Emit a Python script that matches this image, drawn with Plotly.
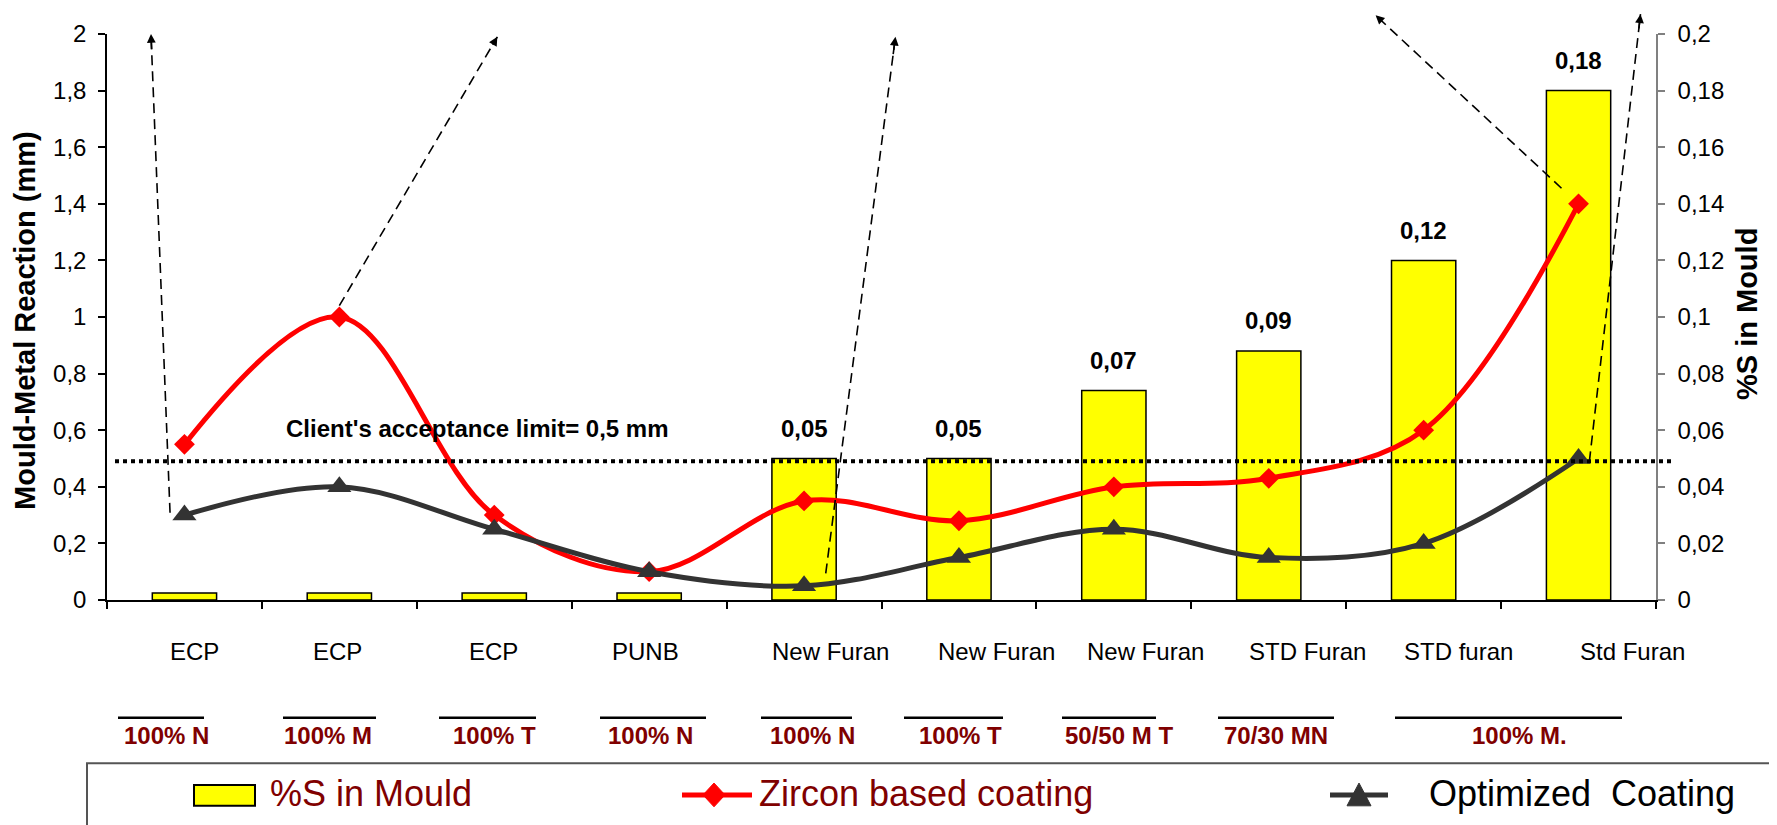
import plotly.graph_objects as go

# ---------------- data ----------------
categories = ["ECP", "ECP", "ECP", "PUNB", "New Furan", "New Furan", "New Furan",
              "STD Furan", "STD furan", "Std Furan"]
sulphur_pct = [0.0025, 0.0025, 0.0025, 0.0025, 0.05, 0.05, 0.074, 0.088, 0.12, 0.18]
sulphur_labels = ["", "", "", "", "0,05", "0,05", "0,07", "0,09", "0,12", "0,18"]
zircon_coating = [0.55, 1.0, 0.3, 0.1, 0.35, 0.28, 0.4, 0.43, 0.6, 1.4]
optimized_coating = [0.3, 0.4, 0.25, 0.1, 0.05, 0.15, 0.25, 0.15, 0.2, 0.5]
acceptance_limit = 0.49
acceptance_text = "Client's acceptance limit= 0,5 mm"
sand_groups = ["100% N", "100% M", "100% T", "100% N", "100% N", "100% T",
               "50/50 M T", "70/30 MN", "100% M."]
left_ticks = [0, 0.2, 0.4, 0.6, 0.8, 1.0, 1.2, 1.4, 1.6, 1.8, 2.0]
right_ticks = [0, 0.02, 0.04, 0.06, 0.08, 0.1, 0.12, 0.14, 0.16, 0.18, 0.2]
legend_names = ["%S in Mould", "Zircon based coating", "Optimized  Coating"]
left_title = "Mould-Metal Reaction (mm)"
right_title = "%S in Mould"

# dashed arrows: (category index, mm) start -> tip
arrow_starts = [(-0.093, 0.308), (1.0, 1.04), (4.14, 0.094), (8.89, 1.455), (9.07, 0.49)]
arrow_tips = [(-0.216, 2.0), (2.02, 1.99), (4.59, 1.99), (7.69, 2.066), (9.40, 2.07)]

# ---------------- geometry (screen pixels) ----------------
PAGE_OFF = 8                      # default body margin of the html page
SCREEN_W, SCREEN_H = 1777, 825
W_FIG, H_FIG = SCREEN_W - PAGE_OFF, SCREEN_H - PAGE_OFF
L, R, T, B = 107, 1656, 28, 600   # plot area on screen
PW, PH = R - L, B - T

def pxx(p):
    return (p - L) / PW

def pyy(p):
    return (B - p) / PH

FONT = "Liberation Sans, Arial, sans-serif"
MAROON = "#800000"
DARK = "#333333"

xs = list(range(len(categories)))
ncat = len(categories)

fig = go.Figure()
fig.add_trace(go.Bar(
    x=xs, y=sulphur_pct, yaxis="y", width=0.415,
    marker=dict(color="#FFFF00", line=dict(color="black", width=1.5)),
    name=legend_names[0], showlegend=False,
))
fig.add_trace(go.Scatter(
    x=xs, y=zircon_coating, yaxis="y2", mode="lines+markers",
    line=dict(color="#FF0000", width=5, shape="spline", smoothing=1.0),
    marker=dict(symbol="diamond", size=16, color="#FF0000"),
    name=legend_names[1], showlegend=False,
))
fig.add_trace(go.Scatter(
    x=xs, y=optimized_coating, yaxis="y2", mode="lines+markers",
    line=dict(color=DARK, width=5, shape="spline", smoothing=1.0),
    marker=dict(symbol="triangle-up", size=21, color=DARK),
    name=legend_names[2], showlegend=False,
))

shapes = []
annotations = []

# acceptance limit dotted line
shapes.append(dict(type="line", xref="x domain", yref="y2", x0=pxx(115), x1=pxx(1673),
                   y0=acceptance_limit, y1=acceptance_limit,
                   line=dict(color="black", width=4, dash="dot"), layer="above"))
annotations.append(dict(text="<b>" + acceptance_text + "</b>", xref="x", yref="y2",
                        x=1.89, y=0.605, xanchor="center", yanchor="middle", showarrow=False,
                        font=dict(family=FONT, size=24, color="black")))

# dashed arrows
for (sx, sy), (tx, ty) in zip(arrow_starts, arrow_tips):
    x0d, y0d = (sx + 0.5) / ncat, sy / 2.0
    x1d, y1d = (tx + 0.5) / ncat, ty / 2.0
    shapes.append(dict(type="line", xref="x domain", yref="y2 domain",
                       x0=x0d, y0=y0d, x1=x1d, y1=y1d,
                       line=dict(color="black", width=1.6, dash="10px,6px"), layer="above"))
    f = 0.035
    annotations.append(dict(text="", xref="x domain", yref="y2 domain",
                            x=x1d, y=y1d, axref="x domain", ayref="y2 domain",
                            ax=x1d + f * (x0d - x1d), ay=y1d + f * (y0d - y1d),
                            showarrow=True, arrowhead=2, arrowsize=1.1,
                            arrowwidth=1.6, arrowcolor="black", standoff=0))

# bar value labels
for i, lab in enumerate(sulphur_labels):
    if lab:
        annotations.append(dict(text="<b>" + lab + "</b>", xref="x", yref="y",
                                x=xs[i], y=sulphur_pct[i], yshift=30,
                                xanchor="center", yanchor="middle", showarrow=False,
                                font=dict(family=FONT, size=24, color="black")))

# category labels (second row)
cat_shift = [10, -2, -1, -4, 26, 38, 32, 39, 35, 54]
for i, c in enumerate(categories):
    annotations.append(dict(text=c, xref="x", yref="paper", x=xs[i], xshift=cat_shift[i],
                            y=pyy(652), xanchor="center", yanchor="middle", showarrow=False,
                            font=dict(family=FONT, size=24, color="black")))

# sand composition row
group_lines = [(118, 204), (283, 376), (439, 536), (600, 706), (761, 852),
               (904, 1003), (1062, 1156), (1218, 1334), (1395, 1622)]
group_text_x = [166, 328, 494, 650, 812, 960, 1119, 1276, 1519]
for g, (a, b), tx in zip(sand_groups, group_lines, group_text_x):
    shapes.append(dict(type="line", xref="paper", yref="paper",
                       x0=pxx(a), x1=pxx(b), y0=pyy(719), y1=pyy(719),
                       line=dict(color="black", width=2.5)))
    annotations.append(dict(text="<b>" + g + "</b>", xref="paper", yref="paper",
                            x=pxx(tx), y=pyy(737), xanchor="center", yanchor="middle",
                            showarrow=False,
                            font=dict(family=FONT, size=24, color=MAROON)))

# axis titles
annotations.append(dict(text="<b>" + left_title + "</b>", xref="paper", yref="paper",
                        x=pxx(25), y=pyy(318), xanchor="center", yanchor="middle",
                        textangle=-90, showarrow=False,
                        font=dict(family=FONT, size=29, color="black")))
annotations.append(dict(text="<b>" + right_title + "</b>", xref="paper", yref="paper",
                        x=pxx(1747), y=pyy(311), xanchor="center", yanchor="middle",
                        textangle=-90, showarrow=False,
                        font=dict(family=FONT, size=29, color="black")))

# legend (drawn)
shapes.append(dict(type="rect", xref="paper", yref="paper",
                   x0=pxx(87), x1=pxx(1820), y0=pyy(860), y1=pyy(765),
                   line=dict(color="#555555", width=2)))
shapes.append(dict(type="rect", xref="paper", yref="paper",
                   x0=pxx(194), x1=pxx(255), y0=pyy(808), y1=pyy(787),
                   fillcolor="#FFFF00", line=dict(color="black", width=2)))
shapes.append(dict(type="line", xref="paper", yref="paper",
                   x0=pxx(682), x1=pxx(752), y0=pyy(797), y1=pyy(797),
                   line=dict(color="#FF0000", width=5)))
dcx, dcy = 714, 797
shapes.append(dict(type="path", xref="paper", yref="paper",
                   path="M {} {} L {} {} L {} {} L {} {} Z".format(
                       pxx(dcx - 11), pyy(dcy), pxx(dcx), pyy(dcy - 12),
                       pxx(dcx + 11), pyy(dcy), pxx(dcx), pyy(dcy + 12)),
                   fillcolor="#FF0000", line=dict(color="#FF0000", width=1)))
shapes.append(dict(type="line", xref="paper", yref="paper",
                   x0=pxx(1330), x1=pxx(1388), y0=pyy(797), y1=pyy(797),
                   line=dict(color=DARK, width=5)))
tcx = 1359
shapes.append(dict(type="path", xref="paper", yref="paper",
                   path="M {} {} L {} {} L {} {} Z".format(
                       pxx(tcx - 12), pyy(808), pxx(tcx), pyy(785), pxx(tcx + 12), pyy(808)),
                   fillcolor=DARK, line=dict(color=DARK, width=1)))
for name, lx, col in zip(legend_names, [268, 757, 1427], [MAROON, MAROON, "black"]):
    annotations.append(dict(text=name, xref="paper", yref="paper", x=pxx(lx), y=pyy(796),
                            xanchor="left", yanchor="middle", showarrow=False,
                            font=dict(family=FONT, size=36, color=col)))

fig.update_layout(
    width=W_FIG, height=H_FIG, autosize=False,
    margin=dict(l=L - PAGE_OFF, r=SCREEN_W - R, t=T - PAGE_OFF, b=SCREEN_H - B, pad=0),
    paper_bgcolor="white", plot_bgcolor="white",
    separators=", ",
    font=dict(family=FONT, size=24, color="black"),
    showlegend=False,
    xaxis=dict(range=[-0.5, ncat - 0.5], tickmode="array",
               tickvals=[i - 0.5 for i in range(ncat + 1)],
               showticklabels=False, ticks="outside", ticklen=7, tickwidth=1.5,
               tickcolor="black", showline=True, linecolor="black", linewidth=1.5,
               showgrid=False, zeroline=False, fixedrange=True),
    yaxis=dict(side="right", range=[0, 0.2], tickmode="array", tickvals=right_ticks,
               ticks="outside", ticklen=7, tickwidth=1.5, tickcolor="#808080",
               showline=True, linecolor="#808080", linewidth=1.5,
               showgrid=False, zeroline=False, ticklabelstandoff=8,
               tickfont=dict(family=FONT, size=24, color="black")),
    yaxis2=dict(side="left", overlaying="y", anchor="x", range=[0, 2],
                tickmode="array", tickvals=left_ticks,
                ticks="outside", ticklen=7, tickwidth=1.5, tickcolor="black",
                showline=True, linecolor="black", linewidth=1.5,
                showgrid=False, zeroline=False, ticklabelstandoff=7,
                tickfont=dict(family=FONT, size=24, color="black")),
    yaxis3=dict(side="left", overlaying="y", anchor="x", range=[0, 2],
                tickmode="array", tickvals=left_ticks, showticklabels=False,
                ticks="inside", ticklen=8, tickwidth=1.5, tickcolor="black",
                showline=False, showgrid=False, zeroline=False),
    shapes=shapes,
    annotations=annotations,
)

fig.write_html("out.html")
